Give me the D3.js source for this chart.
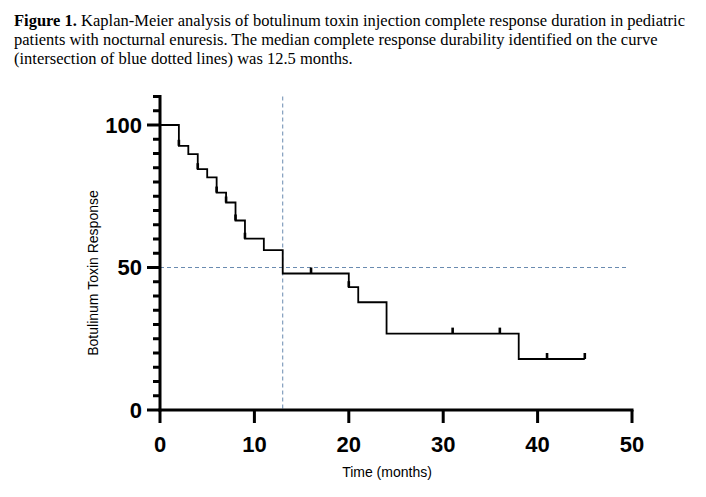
<!DOCTYPE html>
<html lang="en">
<head>
    <meta charset="UTF-8">
    <title>Kaplan-Meier Botulinum Toxin</title>
    <script src="https://d3js.org/d3.v7.min.js"></script>
    <style>
        body { margin: 0; background: #fff; }
        .caption { font-family: "Liberation Serif", "Times New Roman", serif; font-size: 16.5px; fill: #000; }
        .tick-label { font-family: "Liberation Sans", Arial, sans-serif; font-size: 22px; font-weight: bold; }
        .axis-title { font-family: "Liberation Sans", Arial, sans-serif; font-size: 14px; }
    </style>
</head>
<body>
    <div id="chart"></div>

    <script>
        // Kaplan-Meier steps
        var stepTimes  = [0, 2, 3, 4, 5, 6, 7, 8, 9, 11, 13, 20, 21, 24, 38];
        var stepValues = [100, 92.7, 89.8, 84.5, 81.6, 76.3, 72.8, 66.5, 60.1, 56.1, 47.9, 43.1, 37.8, 26.8, 17.9];
        var endTime = 45;

        // censored observations (tick marks)
        var censorTimes = [2, 4, 6, 7, 8, 9, 16, 20, 31, 36, 41, 45];

        var xTicks = [0, 10, 20, 30, 40, 50];
        var yMajor = [0, 50, 100];
        var medianTime = 13;
        var medianValue = 50;

        var captionLines = [
            ["Figure 1.", " Kaplan-Meier analysis of botulinum toxin injection complete response duration in pediatric"],
            ["", "patients with nocturnal enuresis. The median complete response durability identified on the curve"],
            ["", "(intersection of blue dotted lines) was 12.5 months."]
        ];

        var width = 706, height = 497;
        var svg = d3.select("#chart").append("svg")
            .attr("width", width)
            .attr("height", height);

        // caption
        captionLines.forEach(function(line, i) {
            var t = svg.append("text")
                .attr("class", "caption")
                .attr("x", 14)
                .attr("y", 26 + i * 19);
            t.append("tspan").attr("font-weight", "bold").text(line[0]);
            t.append("tspan").text(line[1]);
        });

        var x = d3.scaleLinear().domain([0, 50]).range([160, 632]);
        var y = d3.scaleLinear().domain([0, 100]).range([410, 125]);

        // reference lines for median
        var dashColor = "#6a8bb0";
        svg.append("line")
            .attr("x1", x(0)).attr("x2", 627)
            .attr("y1", y(medianValue)).attr("y2", y(medianValue))
            .attr("stroke", dashColor).attr("stroke-width", 1)
            .attr("stroke-dasharray", "4,3");
        svg.append("line")
            .attr("x1", x(medianTime)).attr("x2", x(medianTime))
            .attr("y1", y(110)).attr("y2", y(0))
            .attr("stroke", dashColor).attr("stroke-width", 1)
            .attr("stroke-dasharray", "4,3");

        // y axis
        var yAxis = svg.append("g");
        yAxis.append("line")
            .attr("x1", x(0)).attr("x2", x(0))
            .attr("y1", y(110) - 1.5).attr("y2", y(0) + 1.5)
            .attr("stroke", "#000").attr("stroke-width", 3);
        yAxis.selectAll(".minor").data(d3.range(0, 111, 5))
            .enter().append("line")
            .attr("x1", function(d) { return yMajor.indexOf(d) >= 0 ? x(0) - 13 : x(0) - 7; })
            .attr("x2", x(0))
            .attr("y1", function(d) { return y(d); })
            .attr("y2", function(d) { return y(d); })
            .attr("stroke", "#000").attr("stroke-width", 3);
        yAxis.selectAll(".ylab").data(yMajor)
            .enter().append("text")
            .attr("class", "tick-label")
            .attr("x", x(0) - 18)
            .attr("y", function(d) { return y(d); })
            .attr("dy", "0.36em")
            .attr("text-anchor", "end")
            .text(function(d) { return d; });

        // x axis
        var xAxis = svg.append("g");
        xAxis.append("line")
            .attr("x1", x(0) - 1.5).attr("x2", x(50) + 1.5)
            .attr("y1", y(0)).attr("y2", y(0))
            .attr("stroke", "#000").attr("stroke-width", 3);
        xAxis.selectAll(".xt").data(xTicks)
            .enter().append("line")
            .attr("x1", function(d) { return x(d); })
            .attr("x2", function(d) { return x(d); })
            .attr("y1", y(0))
            .attr("y2", y(0) + 13)
            .attr("stroke", "#000").attr("stroke-width", 3);
        xAxis.selectAll(".xlab").data(xTicks)
            .enter().append("text")
            .attr("class", "tick-label")
            .attr("x", function(d) { return x(d); })
            .attr("y", 452)
            .attr("text-anchor", "middle")
            .text(function(d) { return d; });

        // axis titles
        svg.append("text")
            .attr("class", "axis-title")
            .attr("x", 387).attr("y", 477)
            .attr("text-anchor", "middle")
            .text("Time (months)");
        svg.append("text")
            .attr("class", "axis-title")
            .attr("transform", "translate(98,273) rotate(-90)")
            .attr("text-anchor", "middle")
            .text("Botulinum Toxin Response");

        // survival curve
        var pts = [];
        stepTimes.forEach(function(t, i) {
            pts.push([t, stepValues[i]]);
        });
        pts.push([endTime, stepValues[stepValues.length - 1]]);
        var line = d3.line()
            .x(function(d) { return x(d[0]); })
            .y(function(d) { return y(d[1]); })
            .curve(d3.curveStepAfter);
        svg.append("path")
            .datum(pts)
            .attr("d", line)
            .attr("fill", "none")
            .attr("stroke", "#000")
            .attr("stroke-width", 1.8);

        function valueAt(t) {
            var v = stepValues[0];
            stepTimes.forEach(function(s, i) { if (s <= t) v = stepValues[i]; });
            return v;
        }
        svg.selectAll(".censor").data(censorTimes)
            .enter().append("line")
            .attr("x1", function(d) { return x(d); })
            .attr("x2", function(d) { return x(d); })
            .attr("y1", function(d) { return y(valueAt(d)); })
            .attr("y2", function(d) { return y(valueAt(d)) - 6; })
            .attr("stroke", "#000").attr("stroke-width", 2.6);
    </script>
</body>
</html>
